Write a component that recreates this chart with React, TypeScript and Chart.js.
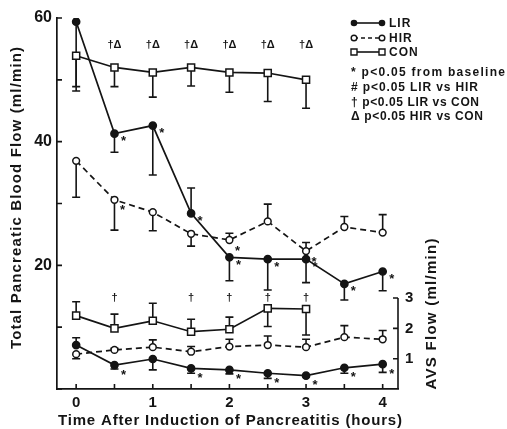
import { useEffect, useRef } from "react";
import { Chart, registerables } from "chart.js";

Chart.register(...registerables);

// ---------- data ----------
const TIMES = [0, 0.5, 1, 1.5, 2, 2.5, 3, 3.5, 4];
const CON_TIMES = [0, 0.5, 1, 1.5, 2, 2.5, 3];

// Total pancreatic blood flow (ml/min), left axis
const LIR_TOTAL = [59.4, 41.3, 42.6, 28.4, 21.3, 21.0, 21.0, 17.0, 19.0];
const LIR_TOTAL_ERR = [48.2, 38.3, 34.6, 32.5, 17.5, 16.0, 17.2, 14.4, 15.9];
const HIR_TOTAL = [36.9, 30.6, 28.6, 25.1, 24.1, 27.1, 22.3, 26.2, 25.3];
const HIR_TOTAL_ERR = [31.0, 25.7, 25.6, 23.1, 25.2, 29.9, 23.7, 27.9, 28.2];
const CON_TOTAL = [53.9, 52.0, 51.2, 52.0, 51.2, 51.1, 50.0];
const CON_TOTAL_ERR = [48.9, 48.9, 47.2, 49.0, 48.0, 46.5, 45.4];

// AVS flow (ml/min), right axis
const LIR_AVS = [1.45, 0.79, 0.99, 0.68, 0.63, 0.52, 0.44, 0.7, 0.82];
const LIR_AVS_ERR = [1.69, 0.66, 0.63, 0.52, 0.5, 0.35, 0.44, 0.52, 0.55];
const HIR_AVS = [1.15, 1.29, 1.38, 1.23, 1.4, 1.45, 1.38, 1.71, 1.64];
const HIR_AVS_ERR = [1.0, 1.34, 1.62, 1.4, 1.64, 1.75, 1.64, 2.09, 1.93];
const CON_AVS = [2.42, 2.0, 2.25, 1.89, 1.97, 2.66, 2.64];
const CON_AVS_ERR = [2.88, 2.47, 2.83, 2.3, 2.37, 2.06, 1.78];

// significance marks (indices into TIMES)
const LIR_TOTAL_STARS = [1, 2, 3, 4, 5, 6, 7, 8];
const HIR_TOTAL_STARS = [1, 4, 6];
const LIR_AVS_STARS = [1, 3, 4, 5, 6, 7, 8];
const TOTAL_MARK_TIMES = [0.5, 1, 1.5, 2, 2.5, 3];
const TOTAL_MARK_TEXT = "†Δ";
const AVS_MARK_TIMES = [0.5, 1.5, 2, 2.5, 3];
const AVS_MARK_TEXT = "†";

// ticks
const X_TICKS = [0, 0.5, 1, 1.5, 2, 2.5, 3, 3.5, 4];
const X_LABELS = [0, 1, 2, 3, 4];
const Y_TICKS = [0, 10, 20, 30, 40, 50, 60];
const Y_LABELS = [20, 40, 60];
const AVS_TICKS = [1, 2, 3];
const AVS_LABELS = [1, 2, 3];

const SERIES_NAMES = ["LIR", "HIR", "CON"];
const NOTE_LINES = [
  "* p<0.05 from baseline",
  "# p<0.05 LIR vs HIR",
  "† p<0.05 LIR vs CON",
  "Δ p<0.05 HIR vs CON",
];
const X_TITLE = "Time After Induction of Pancreatitis (hours)";
const Y_TITLE = "Total Pancreatic Blood Flow (ml/min)";
const Y2_TITLE = "AVS Flow (ml/min)";

// ---------- style ----------
const INK = "#141414";
const FONT = '"Liberation Sans", Arial, sans-serif';
const TOTAL_MARK_VALUE = 55.6; // row of †Δ marks (left-axis units)
const AVS_MARK_VALUE = 3.0; // row of † marks (right-axis units)
const AVS_MAX = 12.24;

function pts(xs: number[], ys: number[]) {
  return xs.map((x, i) => ({ x, y: ys[i] }));
}

function drawFitted(
  ctx: CanvasRenderingContext2D,
  text: string,
  cx: number,
  cy: number,
  target: number,
  angle: number
) {
  ctx.save();
  (ctx as any).letterSpacing = "0px";
  const w = ctx.measureText(text).width;
  const sp = text.length > 1 ? (target - w) / (text.length - 1) : 0;
  (ctx as any).letterSpacing = sp + "px";
  ctx.translate(cx, cy);
  ctx.rotate(angle);
  ctx.textAlign = "left";
  ctx.textBaseline = "middle";
  ctx.fillText(text, -target / 2, 0);
  ctx.restore();
}

const decor = {
  id: "decor",
  beforeDraw(chart: any) {
    const { ctx, width, height } = chart;
    ctx.save();
    ctx.fillStyle = "#fff";
    ctx.fillRect(0, 0, width, height);
    ctx.restore();
  },
  beforeDatasetsDraw(chart: any) {
    const { ctx } = chart;
    const x = chart.scales.x;
    const y = chart.scales.y;
    const y2 = chart.scales.y2;
    const bars: [number[], number[], number[], any][] = [
      [TIMES, LIR_TOTAL, LIR_TOTAL_ERR, y],
      [TIMES, HIR_TOTAL, HIR_TOTAL_ERR, y],
      [CON_TIMES, CON_TOTAL, CON_TOTAL_ERR, y],
      [TIMES, LIR_AVS, LIR_AVS_ERR, y2],
      [TIMES, HIR_AVS, HIR_AVS_ERR, y2],
      [CON_TIMES, CON_AVS, CON_AVS_ERR, y2],
    ];
    ctx.save();
    ctx.strokeStyle = INK;
    ctx.lineWidth = 1.6;
    for (const [ts, vs, es, sc] of bars) {
      ts.forEach((t, i) => {
        const px = x.getPixelForValue(t);
        const p0 = sc.getPixelForValue(vs[i]);
        const p1 = sc.getPixelForValue(es[i]);
        if (Math.abs(p1 - p0) < 1) return;
        ctx.beginPath();
        ctx.moveTo(px, p0);
        ctx.lineTo(px, p1);
        ctx.moveTo(px - 4, p1);
        ctx.lineTo(px + 4, p1);
        ctx.stroke();
      });
    }
    ctx.restore();
  },
  afterDatasetsDraw(chart: any) {
    const { ctx, chartArea } = chart;
    const x = chart.scales.x;
    const y = chart.scales.y;
    const y2 = chart.scales.y2;
    ctx.save();
    ctx.strokeStyle = INK;
    ctx.fillStyle = INK;
    ctx.lineWidth = 1.6;

    // inward tick marks
    ctx.beginPath();
    for (const t of X_TICKS) {
      const px = x.getPixelForValue(t);
      ctx.moveTo(px, chartArea.bottom);
      ctx.lineTo(px, chartArea.bottom - 5);
    }
    for (const v of Y_TICKS) {
      const py = y.getPixelForValue(v);
      ctx.moveTo(chartArea.left, py);
      ctx.lineTo(chartArea.left + 5, py);
    }
    // partial right axis
    const r = chartArea.right;
    ctx.moveTo(r, y2.getPixelForValue(0));
    ctx.lineTo(r, y2.getPixelForValue(AVS_TICKS[AVS_TICKS.length - 1]));
    for (const v of AVS_TICKS) {
      const py = y2.getPixelForValue(v);
      ctx.moveTo(r, py);
      ctx.lineTo(r - 5, py);
    }
    ctx.stroke();

    // stars
    ctx.font = `bold 13px ${FONT}`;
    ctx.textAlign = "center";
    ctx.textBaseline = "middle";
    const star = (t: number, v: number, sc: any, dx: number, dy: number) => {
      ctx.fillText("*", x.getPixelForValue(t) + dx, sc.getPixelForValue(v) + dy + 3);
    };
    LIR_TOTAL_STARS.forEach((i) => star(TIMES[i], LIR_TOTAL[i], y, 9, 5));
    HIR_TOTAL_STARS.forEach((i) => star(TIMES[i], HIR_TOTAL[i], y, 8, 8));
    LIR_AVS_STARS.forEach((i) => star(TIMES[i], LIR_AVS[i], y2, 9, 7));

    // dagger / delta rows
    ctx.font = `bold 11px ${FONT}`;
    TOTAL_MARK_TIMES.forEach((t) => {
      ctx.fillText(TOTAL_MARK_TEXT, x.getPixelForValue(t), y.getPixelForValue(TOTAL_MARK_VALUE));
    });
    AVS_MARK_TIMES.forEach((t) => {
      ctx.fillText(AVS_MARK_TEXT, x.getPixelForValue(t), y2.getPixelForValue(AVS_MARK_VALUE));
    });

    // legend
    const lx0 = 354;
    const lx1 = 382;
    const rows = [23, 38, 52];
    rows.forEach((ly, k) => {
      ctx.save();
      ctx.lineWidth = 1.6;
      if (k === 1) ctx.setLineDash([4, 3]);
      ctx.beginPath();
      ctx.moveTo(lx0, ly);
      ctx.lineTo(lx1, ly);
      ctx.stroke();
      ctx.restore();
      for (const mx of [lx0, lx1]) {
        ctx.beginPath();
        if (k === 0) {
          ctx.arc(mx, ly, 3.3, 0, Math.PI * 2);
          ctx.fillStyle = INK;
          ctx.fill();
        } else if (k === 1) {
          ctx.arc(mx, ly, 2.8, 0, Math.PI * 2);
          ctx.fillStyle = "#fff";
          ctx.fill();
          ctx.lineWidth = 1.4;
          ctx.stroke();
        } else {
          ctx.rect(mx - 3, ly - 3, 6, 6);
          ctx.fillStyle = "#fff";
          ctx.fill();
          ctx.lineWidth = 1.4;
          ctx.stroke();
        }
      }
      ctx.fillStyle = INK;
      ctx.font = `bold 12px ${FONT}`;
      ctx.textAlign = "left";
      ctx.textBaseline = "middle";
      (ctx as any).letterSpacing = "1px";
      ctx.fillText(SERIES_NAMES[k], 389, ly + 1);
      (ctx as any).letterSpacing = "0px";
    });
    ctx.fillStyle = INK;
    ctx.font = `bold 12px ${FONT}`;
    const noteRows = [73, 88, 103, 117];
    const noteWidths = [154, 127, 128, 132];
    NOTE_LINES.forEach((txt, k) => {
      drawFitted(ctx, txt, 351 + noteWidths[k] / 2, noteRows[k], noteWidths[k], 0);
    });

    // axis titles
    ctx.font = `bold 15px ${FONT}`;
    drawFitted(ctx, X_TITLE, 230, 421, 344, 0);
    drawFitted(ctx, Y_TITLE, 17, 198, 302, -Math.PI / 2);
    drawFitted(ctx, Y2_TITLE, 432, 314, 151, -Math.PI / 2);
    ctx.restore();
  },
};

export default function App() {
  const ref = useRef<HTMLCanvasElement | null>(null);
  useEffect(() => {
    if (!ref.current) return;
    const common = { borderColor: INK, borderWidth: 1.7, pointBorderColor: INK, pointBorderWidth: 1.5 };
    const chart = new Chart(ref.current, {
      type: "line",
      data: {
        datasets: [
          {
            label: "LIR",
            data: pts(TIMES, LIR_TOTAL),
            ...common,
            pointRadius: 3.6,
            pointBackgroundColor: INK,
            yAxisID: "y",
          },
          {
            label: "HIR",
            data: pts(TIMES, HIR_TOTAL),
            ...common,
            borderDash: [6, 4],
            pointRadius: 3.4,
            pointBackgroundColor: "#fff",
            yAxisID: "y",
          },
          {
            label: "CON",
            data: pts(CON_TIMES, CON_TOTAL),
            ...common,
            pointStyle: "rect",
            pointRadius: 5,
            pointBackgroundColor: "#fff",
            yAxisID: "y",
          },
          {
            label: "LIR AVS",
            data: pts(TIMES, LIR_AVS),
            ...common,
            pointRadius: 3.6,
            pointBackgroundColor: INK,
            yAxisID: "y2",
          },
          {
            label: "HIR AVS",
            data: pts(TIMES, HIR_AVS),
            ...common,
            borderDash: [6, 4],
            pointRadius: 3.4,
            pointBackgroundColor: "#fff",
            yAxisID: "y2",
          },
          {
            label: "CON AVS",
            data: pts(CON_TIMES, CON_AVS),
            ...common,
            pointStyle: "rect",
            pointRadius: 5,
            pointBackgroundColor: "#fff",
            yAxisID: "y2",
          },
        ],
      },
      options: {
        responsive: false,
        animation: false,
        devicePixelRatio: 1,
        layout: { padding: { top: 18, left: 0, right: 0, bottom: 0 } },
        plugins: { legend: { display: false }, tooltip: { enabled: false } },
        events: [],
        scales: {
          x: {
            type: "linear",
            min: -0.25,
            max: 4.2,
            afterBuildTicks: (s: any) => {
              s.ticks = X_LABELS.map((v) => ({ value: v }));
            },
            afterFit: (s: any) => {
              s.height = 40;
            },
            ticks: {
              color: INK,
              font: { family: FONT, weight: "bold", size: 15 },
              padding: 5,
              maxRotation: 0,
              autoSkip: false,
            },
            grid: { display: false, drawTicks: false },
            border: { display: true, color: INK, width: 1.7 },
          },
          y: {
            type: "linear",
            min: 0,
            max: 60,
            afterBuildTicks: (s: any) => {
              s.ticks = Y_LABELS.map((v) => ({ value: v }));
            },
            afterFit: (s: any) => {
              s.width = 57;
            },
            ticks: {
              color: INK,
              font: { family: FONT, weight: "bold", size: 16 },
              padding: 5,
              autoSkip: false,
            },
            grid: { display: false, drawTicks: false },
            border: { display: true, color: INK, width: 1.7 },
          },
          y2: {
            type: "linear",
            position: "right",
            min: 0,
            max: AVS_MAX,
            afterBuildTicks: (s: any) => {
              s.ticks = AVS_LABELS.map((v) => ({ value: v }));
            },
            afterFit: (s: any) => {
              s.width = 109;
            },
            ticks: {
              color: INK,
              font: { family: FONT, weight: "bold", size: 15 },
              padding: 7,
              autoSkip: false,
            },
            grid: { display: false, drawTicks: false },
            border: { display: false },
          },
        },
      },
      plugins: [decor],
    });
    return () => chart.destroy();
  }, []);
  return (
    <div style={{ position: "fixed", left: 0, top: 0, width: 507, height: 429, background: "#fff" }}>
      <canvas ref={ref} width={507} height={429} />
    </div>
  );
}
